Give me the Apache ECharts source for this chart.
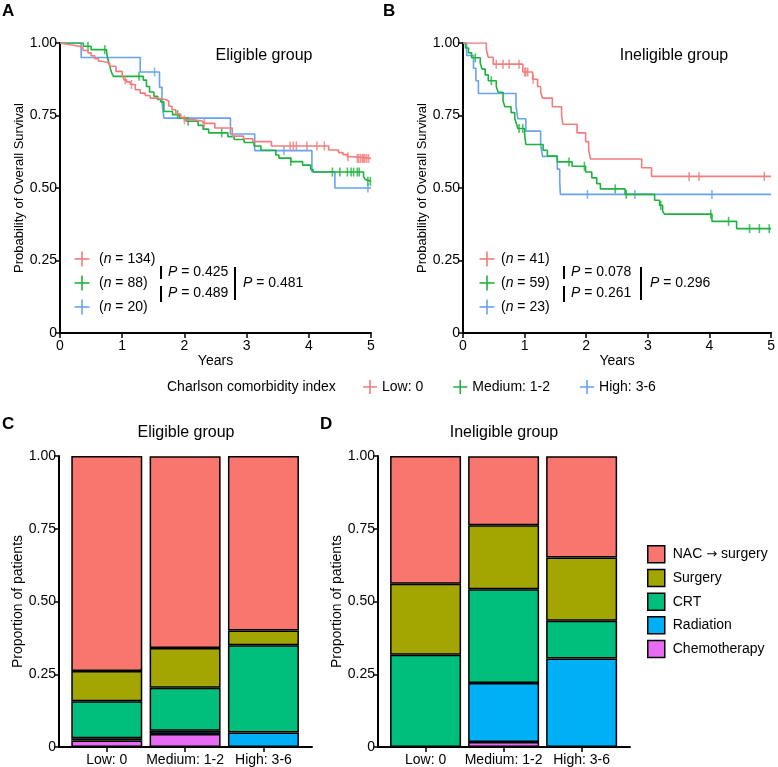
<!DOCTYPE html>
<html><head><meta charset="utf-8">
<script src="https://cdn.jsdelivr.net/npm/echarts@6/dist/echarts.min.js"></script>
<style>html,body{margin:0;padding:0;background:#fff}#c{width:778px;height:767px}</style>
</head><body><div id="c"></div>
<script>
// ---------- categories / names ----------
const groupNames = ['Low: 0', 'Medium: 1-2', 'High: 3-6'];
const treatNames = ['NAC \u2192 surgery', 'Surgery', 'CRT', 'Radiation', 'Chemotherapy'];
const yTickLabels = ['0', '0.25', '0.50', '0.75', '1.00'];

// ---------- Panel A (Eligible group) KM: event times / survival / censor times ----------
const aLowT = [0.03,0.16,0.32,0.37,0.45,0.5,0.56,0.62,0.67,0.8,0.9,1.0,1.03,1.07,1.13,1.21,1.29,1.37,1.45,1.54,1.7,1.75,1.8,1.86,1.94,2.0,2.16,2.3,2.49,2.77,2.95,3.1,3.4,4.32,4.48,4.55,4.62,4.72];
const aLowS = [0.994,0.989,0.983,0.974,0.966,0.956,0.946,0.937,0.931,0.92,0.902,0.889,0.873,0.866,0.857,0.839,0.827,0.819,0.81,0.805,0.799,0.782,0.77,0.755,0.743,0.735,0.73,0.723,0.707,0.679,0.67,0.66,0.645,0.631,0.622,0.615,0.608,0.602];
const aLowCens = [1.05,1.15,2.0,2.32,3.7,3.75,3.8,3.97,4.13,4.25,4.63,4.78,4.8,4.83,4.86,4.88,4.9,4.93,4.96];

const aMedT = [0.375,0.5,0.75,0.77,0.8,0.83,0.86,1.34,1.39,1.44,1.51,1.57,1.62,1.67,1.81,1.92,2.03,2.22,2.3,2.39,2.7,2.8,2.96,3.12,3.23,3.47,3.52,3.71,3.9,4.03,4.07,4.88,4.91,4.94];
const aMedS = [0.989,0.977,0.966,0.943,0.92,0.897,0.885,0.872,0.85,0.831,0.816,0.805,0.797,0.764,0.753,0.741,0.730,0.716,0.703,0.69,0.677,0.667,0.657,0.645,0.63,0.614,0.603,0.591,0.579,0.564,0.555,0.54,0.529,0.523];
const aMedCens = [0.45,0.72,1.27,1.89,2.06,2.6,3.71,4.38,4.5,4.62,4.68,4.72,4.78,4.81,4.95,4.99];

const aHighT = [0.34,1.29,1.6,1.64,1.67,2.74,3.13,4.05,4.42];
const aHighS = [0.95,0.90,0.847,0.794,0.741,0.686,0.629,0.556,0.50];
const aHighCens = [1.52,3.6,4.95];

// ---------- Panel B (Ineligible group) KM ----------
const bLowT = [0.38,0.41,0.49,0.97,1.13,1.21,1.26,1.29,1.45,1.6,1.62,1.85,1.99,2.04,2.07,2.9,3.06];
const bLowS = [0.976,0.951,0.927,0.90,0.875,0.85,0.83,0.81,0.78,0.75,0.72,0.69,0.66,0.63,0.60,0.57,0.54];
const bLowCens = [0.54,0.65,0.75,0.91,1.0,1.02,1.05,1.14,3.67,3.83,4.89];

const bMedT = [0.04,0.09,0.14,0.28,0.31,0.36,0.41,0.54,0.57,0.65,0.68,0.78,0.84,0.87,0.89,1.0,1.02,1.3,1.37,1.53,1.77,1.99,2.09,2.17,2.23,2.63,3.11,3.19,3.24,3.27,4.04,4.44];
const bMedS = [0.983,0.966,0.949,0.93,0.91,0.89,0.87,0.85,0.83,0.80,0.78,0.76,0.74,0.72,0.705,0.685,0.65,0.63,0.61,0.59,0.575,0.555,0.535,0.515,0.497,0.478,0.458,0.44,0.42,0.41,0.385,0.36];
const bMedCens = [0.2,0.46,0.91,0.97,1.72,1.97,2.47,2.65,3.21,4.02,4.31,4.65,4.81,4.97];

const bHighT = [0.06,0.17,0.21,0.25,0.86,0.89,1.02,1.26,1.29,1.53,1.57,1.58];
const bHighS = [0.957,0.913,0.87,0.826,0.783,0.739,0.696,0.652,0.609,0.565,0.522,0.478];
const bHighCens = [2.02,2.79,4.04];

// ---------- legend texts inside KM panels ----------
const aCounts = ['134', '88', '20'];
const bCounts = ['41', '59', '23'];
const aPvals = ['0.425', '0.489', '0.481'];
const bPvals = ['0.078', '0.261', '0.296'];

// ---------- Panel C / D proportions (per group: Low, Medium, High) ----------
const cNAC     = [0.739, 0.659, 0.60];
const cSurgery = [0.104, 0.136, 0.05];
const cCRT     = [0.127, 0.148, 0.30];
const cRad     = [0.008, 0.011, 0.05];
const cChemo   = [0.022, 0.045, 0];

const dNAC     = [0.439, 0.237, 0.348];
const dSurgery = [0.244, 0.220, 0.217];
const dCRT     = [0.317, 0.322, 0.130];
const dRad     = [0, 0.203, 0.304];
const dChemo   = [0, 0.017, 0];

// ---------- styles ----------
const F = '"Liberation Sans", Arial, Helvetica, sans-serif';
const kmColors = ['#F37C7C', '#1DB33F', '#67A3F2'];
const barColors = { 'NAC \u2192 surgery': '#F8766D', 'Surgery': '#A3A500', 'CRT': '#00BF7D', 'Radiation': '#00B0F6', 'Chemotherapy': '#E76BF3' };
const plusIcon = 'path://M6.2,0h1.6v6.2h6.2v1.6h-6.2v6.2h-1.6v-6.2h-6.2v-1.6h6.2z';

function kmLine(T, S, end) {
  const d = [[0, 1]];
  T.forEach((t, i) => d.push([t, S[i]]));
  d.push([end, S[S.length - 1]]);
  return d;
}
function survAt(T, S, t) {
  let s = 1;
  for (let i = 0; i < T.length; i++) if (T[i] <= t) s = S[i];
  return s;
}

const kmSets = [
  [[aLowT, aLowS, aLowCens], [aMedT, aMedS, aMedCens], [aHighT, aHighS, aHighCens]],
  [[bLowT, bLowS, bLowCens], [bMedT, bMedS, bMedCens], [bHighT, bHighS, bHighCens]]
];

const series = [];
kmSets.forEach((panel, p) => {
  panel.forEach((g, i) => {
    const [T, S, C] = g;
    series.push({
      type: 'line', name: groupNames[i], xAxisIndex: p, yAxisIndex: p,
      step: 'end', symbol: 'none', showSymbol: false, silent: true,
      color: kmColors[i], lineStyle: { width: 1.6, color: kmColors[i] },
      data: kmLine(T, S, 5), z: 3 - i + 2
    });
    series.push({
      type: 'scatter', name: groupNames[i], xAxisIndex: p, yAxisIndex: p,
      symbol: 'rect', symbolSize: [1.6, 9], silent: true,
      itemStyle: { color: kmColors[i] },
      data: C.map(t => [t, survAt(T, S, t)]), z: 3 - i + 2
    });
  });
});

const barSets = [
  { idx: 2, vals: { 'Chemotherapy': cChemo, 'Radiation': cRad, 'CRT': cCRT, 'Surgery': cSurgery, 'NAC \u2192 surgery': cNAC } },
  { idx: 3, vals: { 'Chemotherapy': dChemo, 'Radiation': dRad, 'CRT': dCRT, 'Surgery': dSurgery, 'NAC \u2192 surgery': dNAC } }
];
barSets.forEach(bs => {
  ['Chemotherapy', 'Radiation', 'CRT', 'Surgery', 'NAC \u2192 surgery'].forEach(name => {
    series.push({
      type: 'bar', name: name, xAxisIndex: bs.idx, yAxisIndex: bs.idx,
      stack: 'st' + bs.idx, barWidth: 71, silent: true,
      itemStyle: { color: barColors[name], borderColor: '#000', borderWidth: 1.5 },
      // value first so the stacked dimension is the proportion, group position second
      dimensions: ['share', 'group'],
      encode: { x: 'group', y: 'share' },
      data: bs.vals[name].map((v, i) => [v, i])
    });
  });
});

const axisLineStyle = { show: true, onZero: false, lineStyle: { color: '#000', width: 2 } };
const tickStyle = { show: true, inside: false, length: 5, lineStyle: { color: '#000', width: 1.5 } };
function yFmt(v) { return yTickLabels[Math.round(v * 4)]; }

function kmX(i) {
  return { gridIndex: i, type: 'value', min: 0, max: 5, interval: 1,
    axisLine: axisLineStyle, axisTick: tickStyle, splitLine: { show: false },
    axisLabel: { color: '#000', fontSize: 14, fontFamily: F, margin: 6 },
    name: 'Years', nameLocation: 'middle', nameGap: 20,
    nameTextStyle: { color: '#000', fontSize: 14, fontFamily: F } };
}
function kmY(i, gap) {
  return { gridIndex: i, type: 'value', min: 0, max: 1, interval: 0.25,
    axisLine: axisLineStyle, axisTick: tickStyle, splitLine: { show: false },
    axisLabel: { color: '#000', fontSize: 14, fontFamily: F, margin: 3, formatter: yFmt },
    name: 'Probability of Overall Survival', nameLocation: 'middle', nameGap: gap,
    nameTextStyle: { color: '#000', fontSize: 13, fontFamily: F } };
}
function barX(i) {
  return { gridIndex: i, type: 'value', min: -0.61, max: 2.62,
    axisLine: axisLineStyle, splitLine: { show: false },
    axisTick: Object.assign({}, tickStyle, { customValues: [0, 1, 2] }),
    axisLabel: { color: '#000', fontSize: 14, fontFamily: F, margin: 6, customValues: [0, 1, 2],
      formatter: v => groupNames[Math.round(v)] } };
}
function barY(i, gap) {
  return { gridIndex: i, type: 'value', min: 0, max: 1, interval: 0.25,
    axisLine: axisLineStyle, axisTick: tickStyle, splitLine: { show: false },
    axisLabel: { color: '#000', fontSize: 14, fontFamily: F, margin: 3, formatter: yFmt },
    name: 'Proportion of patients', nameLocation: 'middle', nameGap: gap,
    nameTextStyle: { color: '#000', fontSize: 14, fontFamily: F } };
}

// ---------- graphics (panel letters, titles, inner KM legends) ----------
const graphic = [];
function txt(x, y, text, opt) {
  graphic.push({ type: 'text', x: x, y: y, silent: true,
    style: Object.assign({ text: text, fill: '#000', fontSize: 14, fontFamily: F,
      textVerticalAlign: 'middle', rich: { i: { fontStyle: 'italic', fontSize: 14, fontFamily: F, fill: '#000' } } }, opt || {}) });
}
function ln(x1, y1, x2, y2, color, w) {
  graphic.push({ type: 'line', silent: true, shape: { x1, y1, x2, y2 }, style: { stroke: color || '#000', lineWidth: w || 2 } });
}
txt(2, 11, 'A', { fontSize: 17, fontWeight: 'bold' });
txt(383, 11, 'B', { fontSize: 17, fontWeight: 'bold' });
txt(2, 424, 'C', { fontSize: 17, fontWeight: 'bold' });
txt(320, 424, 'D', { fontSize: 17, fontWeight: 'bold' });
txt(264, 56, 'Eligible group', { fontSize: 16, textAlign: 'center' });
txt(674, 56, 'Ineligible group', { fontSize: 16, textAlign: 'center' });
txt(186, 433, 'Eligible group', { fontSize: 16, textAlign: 'center' });
txt(504, 433, 'Ineligible group', { fontSize: 16, textAlign: 'center' });

function innerLegend(cx, tx, barX1, ptx, barX2, p2x, counts, pv) {
  const ys = [259, 283, 307];
  ys.forEach((y, i) => {
    ln(cx - 7.5, y, cx + 7.5, y, kmColors[i], 1.6);
    ln(cx, y - 7.5, cx, y + 7.5, kmColors[i], 1.6);
    txt(tx, y, '(' + '{i|n} = ' + counts[i] + ')');
  });
  ln(barX1, 266, barX1, 279, '#000', 2);
  ln(barX1, 286, barX1, 302, '#000', 2);
  txt(ptx, 272, '{i|P} = ' + pv[0]);
  txt(ptx, 293, '{i|P} = ' + pv[1]);
  ln(barX2, 267, barX2, 300, '#000', 2);
  txt(p2x, 283, '{i|P} = ' + pv[2]);
}
innerLegend(82, 99, 161, 168, 235, 243, aCounts, aPvals);
innerLegend(487, 501, 564, 571, 641, 650, bCounts, bPvals);
txt(167, 387, 'Charlson comorbidity index');

const option = {
  animation: false,
  textStyle: { fontFamily: F },
  grid: [
    { left: 60, top: 43, width: 311, height: 290 },
    { left: 463, top: 43, width: 312, height: 290 },
    { left: 59, top: 456, width: 253, height: 291 },
    { left: 378, top: 456, width: 252, height: 291 }
  ],
  xAxis: [kmX(0), kmX(1), barX(2), barX(3)],
  yAxis: [kmY(0, 34), kmY(1, 34), barY(2, 33), barY(3, 34)],
  legend: [
    { left: 358, top: 375, orient: 'horizontal', itemWidth: 14, itemHeight: 14, itemGap: 30,
      selectedMode: false,
      textStyle: { color: '#000', fontSize: 14, fontFamily: F },
      data: groupNames.map((n, i) => ({ name: n, icon: plusIcon, itemStyle: { color: kmColors[i] } })) },
    { left: 642, top: 540, orient: 'vertical', itemWidth: 17, itemHeight: 17, itemGap: 5.2,
      selectedMode: false, icon: 'rect',
      itemStyle: { borderColor: '#000', borderWidth: 1.5 },
      formatter: n => n.replace('\u2192', '{a|\u2192}'),
      textStyle: { color: '#000', fontSize: 14, fontFamily: F, padding: [0, 0, 0, 3],
        rich: { a: { fontFamily: '"DejaVu Sans", sans-serif', fontSize: 13, color: '#000' } } },
      data: treatNames }
  ],
  graphic: graphic,
  series: series
};
echarts.init(document.getElementById('c'), null, { renderer: 'canvas' }).setOption(option);
</script>
</body></html>
